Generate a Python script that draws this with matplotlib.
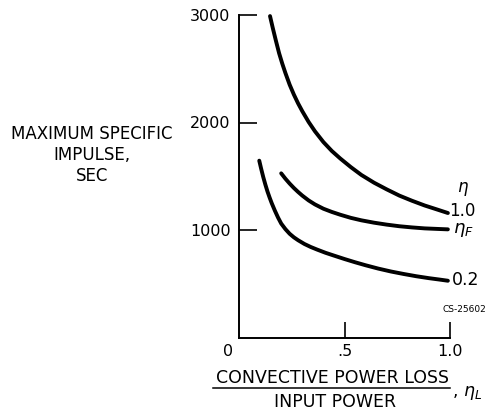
import matplotlib
matplotlib.use("Agg")
import matplotlib.pyplot as plt

# Data
x_eta1 = [0.147, 0.16, 0.175, 0.19, 0.205, 0.22, 0.24, 0.26, 0.28, 0.30, 0.33, 0.36, 0.40,
          0.44, 0.48, 0.53, 0.58, 0.64, 0.70, 0.76, 0.82, 0.88, 0.94, 0.99]
y_eta1 = [2990, 2880, 2760, 2645, 2548, 2460, 2352, 2260, 2178, 2105, 2005, 1918, 1818,
          1735, 1665, 1585, 1512, 1440, 1378, 1320, 1272, 1228, 1190, 1158]

x_etaF = [0.20, 0.22, 0.24, 0.26, 0.28, 0.30, 0.33, 0.36, 0.40, 0.44, 0.48, 0.53, 0.58,
          0.64, 0.70, 0.76, 0.82, 0.88, 0.94, 0.99]
y_etaF = [1527, 1477, 1432, 1391, 1354, 1320, 1275, 1238, 1198, 1168, 1142, 1113, 1090,
          1068, 1050, 1035, 1024, 1015, 1010, 1006]

x_eta02 = [0.096, 0.105, 0.115, 0.125, 0.135, 0.145, 0.155, 0.17, 0.185, 0.20, 0.22, 0.24,
           0.26, 0.28, 0.31, 0.34, 0.37, 0.41, 0.45, 0.50, 0.55, 0.60, 0.66, 0.72, 0.78,
           0.84, 0.90, 0.95, 0.99]
y_eta02 = [1645, 1570, 1492, 1422, 1358, 1302, 1250, 1180, 1116, 1060, 1008, 965,
           932, 905, 870, 842, 818, 788, 762, 730, 700, 672, 641, 614, 591,
           570, 552, 539, 528]

curve_labels = ["1.0", "$\\eta_F$", "0.2"]
yticks = [1000, 2000, 3000]
ytick_labels = ["1000", "2000", "3000"]
xticks = [0.5, 1.0]
xtick_labels = [".5", "1.0"]

W, H = 487, 413
fig = plt.figure(figsize=(W / 100, H / 100), dpi=100)
ax = fig.add_axes([239 / W, 1 - 337.5 / H, (450 - 239) / W, (337.5 - 15) / H])
ax.set_xlim(0, 1.0)
ax.set_ylim(0, 3000)

lw = 2.8
for xs, ys in [(x_eta1, y_eta1), (x_etaF, y_etaF), (x_eta02, y_eta02)]:
    ax.plot(xs, ys, color="black", lw=lw, solid_capstyle="round", solid_joinstyle="round", clip_on=False)

for s in ["top", "right"]:
    ax.spines[s].set_visible(False)
for s in ["left", "bottom"]:
    ax.spines[s].set_linewidth(1.4)

ax.set_yticks(yticks)
ax.set_yticklabels(ytick_labels)
ax.set_xticks(xticks)
ax.set_xticklabels(xtick_labels)
ax.tick_params(axis="y", direction="in", length=13, width=1.2, pad=6, labelsize=11.5)
ax.tick_params(axis="x", direction="in", length=11.5, width=1.2, pad=5, labelsize=11.5)
ax.text(-0.05, -130, "0", ha="center", va="center", fontsize=11.5, clip_on=False)

# curve end labels
fs = 12
ax.text(1.06, 1380, "$\\eta$", ha="center", va="center", fontsize=fs, clip_on=False)
ax.text(1.06, 1180, curve_labels[0], ha="center", va="center", fontsize=fs, clip_on=False)
ax.text(1.065, 1000, curve_labels[1], ha="center", va="center", fontsize=fs + 1, clip_on=False)
ax.text(1.075, 535, curve_labels[2], ha="center", va="center", fontsize=fs + 0.5, clip_on=False)
fig.text(486 / W, 1 - 309 / H, "CS-25602", ha="right", va="center", fontsize=6.5)

# y label
fig.text(92 / W, 1 - 155 / H, "MAXIMUM SPECIFIC\nIMPULSE,\nSEC", ha="center", va="center",
         multialignment="center", fontsize=12, linespacing=1.2)

# x label as a fraction
fig.text(332 / W, 1 - 378 / H, "CONVECTIVE POWER LOSS", ha="center", va="center", fontsize=12.5)
fig.add_artist(plt.Line2D([213 / W, 450 / W], [1 - 387.5 / H, 1 - 387.5 / H], color="black", lw=1.1))
fig.text(335 / W, 1 - 402 / H, "INPUT POWER", ha="center", va="center", fontsize=12.5)
fig.text(452 / W, 1 - 393 / H, ", $\\eta_L$", ha="left", va="center", fontsize=12.5)

fig.savefig("out.png", dpi=100)
